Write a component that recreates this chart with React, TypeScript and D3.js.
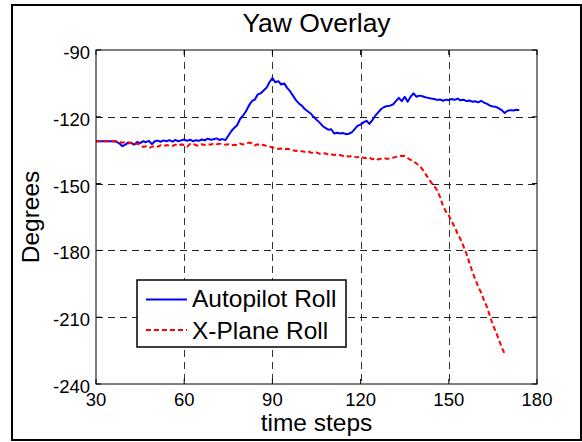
import React from "react";
import * as d3 from "d3";

const title = "Yaw Overlay";
const xLabel = "time steps";
const yLabel = "Degrees";
const xTicks = [30, 60, 90, 120, 150, 180];
const yTicks = [-90, -120, -150, -180, -210, -240];
const seriesNames = ["Autopilot Roll", "X-Plane Roll"];
const startStep = 30;

// Autopilot Roll, one value per time step from 30
const autopilotRoll = [
  -131, -131, -131, -131, -131, -131, -131, -131.2, -132, -133.2,
  -132.5, -131.5, -131.8, -132.5, -131.3, -131.8, -131, -131.4, -130.8, -132.3,
  -131, -130.7, -131.2, -130.6, -131, -130.5, -131.2, -130.4, -131, -130.6,
  -130.2, -130.8, -130.3, -131, -130.5, -130.8, -130.2, -130.6, -129.8, -130.3,
  -130.1, -129.7, -130.4, -130, -130.5, -128.5, -126.5, -125, -123.8, -121,
  -119.5, -117.5, -115, -113, -112.3, -110, -109.5, -108.2, -107, -104.5,
  -102.6, -104.5, -104, -105.5, -105, -107, -108.5, -110.5, -112.5, -114,
  -115, -116.5, -117.5, -118.5, -120, -121.3, -122.5, -124, -125, -125.8,
  -125.6, -127.5, -127.2, -127.5, -127.3, -127.8, -127.6, -127, -125.5, -124,
  -123.5, -122.5, -121.8, -123.2, -121.5, -119.5, -118, -116.5, -115.6, -115.2,
  -115, -114.5, -113, -111.5, -113, -111, -113.2, -111, -109.5, -111,
  -110.5, -110.8, -111.2, -111.5, -111.8, -112, -112.4, -112.2, -112.8, -112.3,
  -112.5, -112, -112.4, -111.8, -112.6, -112.3, -113, -112.7, -113.2, -113,
  -113.5, -112.8, -113.6, -114.2, -115, -115.4, -115.5, -116.2, -117, -118.3,
  -117.3, -117, -117.2, -116.8, -117,
];

// X-Plane Roll, one value per time step from 30
const xplaneRoll = [
  -131, -131, -131, -131, -131, -131, -131, -131, -131.3, -131.6,
  -131.4, -132, -131.6, -132.4, -132, -132.6, -133.5, -133.2, -134, -133.5,
  -133, -133.4, -132.8, -133.2, -132.7, -133, -133.1, -132.5, -133, -132.4,
  -132.7, -133.4, -132.2, -132, -132.8, -133, -132.3, -132.6, -132.2, -132.5,
  -132, -132.3, -132.1, -132.2, -132.5, -132.3, -132.8, -132.6, -132.7, -132,
  -132.4, -132.2, -131.6, -131.9, -132.8, -132.4, -133, -132.6, -133.2, -133.4,
  -133.8, -134, -134.4, -134.2, -134.6, -134.4, -134.6, -135, -135.3, -135,
  -135.5, -135.7, -135.4, -136, -136.3, -136, -136.6, -136.7, -136.4, -137,
  -136.8, -137.2, -137, -137.2, -137.6, -137.4, -137.9, -137.5, -138, -138.2,
  -137.8, -138.4, -138.6, -138.3, -139.1, -138.6, -139.2, -138.8, -138.5, -138.9,
  -138.6, -138.4, -138, -137.8, -137.5, -137.6, -138.5, -139.4, -140, -141,
  -142, -143.5, -145.5, -147.5, -149.5, -151, -153, -155.9, -160, -162.5,
  -164.3, -167, -169.5, -172.5, -175, -178.2, -181.5, -185.5, -189.5, -193,
  -196.3, -199, -202.5, -205.5, -209.5, -213.5, -216.5, -220, -223.5, -226.5,
];

const W = 582;
const H = 442;
const FONT = "'Liberation Sans', Arial, sans-serif";

export default function App() {
  const x = d3.scaleLinear().domain([30, 180]).range([96, 537]);
  const y = d3.scaleLinear().domain([-240, -90]).range([384, 50]);
  const [x0, x1] = x.range();
  const [y0, y1] = [y(-90), y(-240)];

  const line = d3
    .line<number>()
    .x((_, i) => x(startStep + i))
    .y((v) => y(v));

  const gridX = xTicks.filter((t) => t !== 30 && t !== 180);
  const gridY = yTicks.filter((t) => t !== -90 && t !== -240);
  const tickLen = 5;

  const lg = { x: 137, y: 280, w: 209, h: 67 };

  return (
    <svg
      width={W}
      height={H}
      style={{ position: "absolute", left: 0, top: 0, background: "#fff" }}
      fontFamily={FONT}
    >
      <rect x={0} y={0} width={W} height={H} fill="#fff" />
      <rect x={12} y={5} width={569} height={435} fill="none" stroke="#000" strokeWidth={2} />

      {/* grid */}
      {gridX.map((t) => (
        <line
          key={"gx" + t}
          x1={Math.round(x(t)) + 0.5}
          x2={Math.round(x(t)) + 0.5}
          y1={y0}
          y2={y1}
          stroke="#333"
          strokeWidth={1}
          strokeDasharray="7,5"
        />
      ))}
      {gridY.map((t) => (
        <line
          key={"gy" + t}
          x1={x0}
          x2={x1}
          y1={Math.round(y(t)) + 0.5}
          y2={Math.round(y(t)) + 0.5}
          stroke="#222"
          strokeWidth={1}
          strokeDasharray="7,5"
        />
      ))}

      {/* ticks */}
      {xTicks.map((t) => (
        <g key={"tx" + t}>
          <line x1={x(t)} x2={x(t)} y1={y1} y2={y1 - tickLen} stroke="#000" />
          <line x1={x(t)} x2={x(t)} y1={y0} y2={y0 + tickLen} stroke="#000" />
          <text x={x(t)} y={406} fontSize={18.5} textAnchor="middle" fill="#000">
            {t}
          </text>
        </g>
      ))}
      {yTicks.map((t) => (
        <g key={"ty" + t}>
          <line x1={x0} x2={x0 + tickLen} y1={y(t)} y2={y(t)} stroke="#000" />
          <line x1={x1} x2={x1 - tickLen} y1={y(t)} y2={y(t)} stroke="#000" />
          <text x={90} y={y(t) + 9} fontSize={18.5} textAnchor="end" fill="#000">
            {t}
          </text>
        </g>
      ))}

      {/* data */}
      <path d={line(autopilotRoll) || ""} fill="none" stroke="#0000ff" strokeWidth={2} strokeLinejoin="round" />
      <path
        d={line(xplaneRoll) || ""}
        fill="none"
        stroke="#ff0000"
        strokeWidth={2}
        strokeDasharray="5,3"
      />

      {/* axes box */}
      <rect
        x={x0}
        y={y0}
        width={x1 - x0}
        height={y1 - y0}
        fill="none"
        stroke="#000"
        strokeWidth={1}
      />

      {/* labels */}
      <text x={(x0 + x1) / 2} y={32} fontSize={26.5} textAnchor="middle" fill="#000">
        {title}
      </text>
      <text x={(x0 + x1) / 2} y={431} fontSize={24.5} textAnchor="middle" fill="#000">
        {xLabel}
      </text>
      <text
        transform={`translate(39,${(y0 + y1) / 2}) rotate(-90)`}
        fontSize={24.5}
        textAnchor="middle"
        fill="#000"
      >
        {yLabel}
      </text>

      {/* legend */}
      <rect x={lg.x} y={lg.y} width={lg.w} height={lg.h} fill="#fff" stroke="#000" strokeWidth={1.5} />
      <line x1={146} x2={187} y1={299.5} y2={299.5} stroke="#0000ff" strokeWidth={2} />
      <line x1={146} x2={187} y1={330} y2={330} stroke="#ff0000" strokeWidth={2} strokeDasharray="5,3" />
      <text x={192} y={306.5} fontSize={24.5} fill="#000">
        {seriesNames[0]}
      </text>
      <text x={192} y={339} fontSize={24.5} fill="#000">
        {seriesNames[1]}
      </text>
    </svg>
  );
}
